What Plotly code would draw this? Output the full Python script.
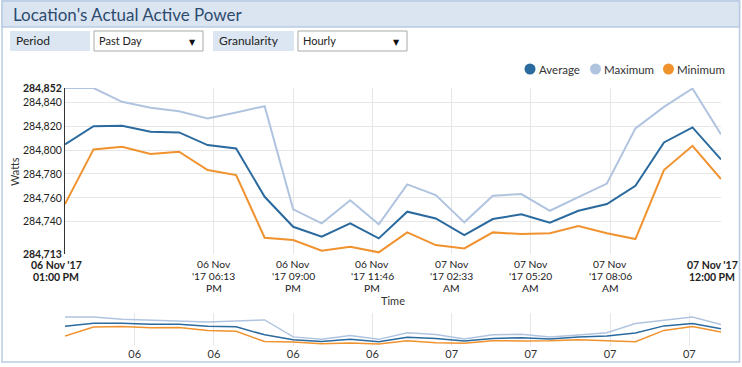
import plotly.graph_objects as go
from datetime import datetime, timedelta

# ---------------- data ----------------
start = datetime(2017, 11, 6, 13, 0)
times = [start + timedelta(hours=h) for h in range(24)]

average = [284804.8, 284820.0, 284820.3, 284815.3, 284814.8, 284804.2, 284801.4, 284760.9,
           284735.8, 284727.5, 284738.7, 284726.1, 284748.4, 284742.8, 284728.9, 284742.3,
           284746.2, 284739.2, 284749.2, 284754.8, 284770.1, 284806.4, 284819.0, 284792.2]
maximum = [284852.0, 284852.0, 284840.4, 284835.4, 284832.6, 284826.5, 284831.5, 284836.8,
           284750.4, 284738.7, 284758.0, 284737.8, 284771.3, 284762.3, 284739.5, 284761.8,
           284763.2, 284749.2, 284760.6, 284772.0, 284818.2, 284836.2, 284851.6, 284813.1]
minimum = [284754.8, 284800.6, 284802.8, 284796.7, 284798.6, 284783.3, 284779.1, 284726.6,
           284724.7, 284715.7, 284719.1, 284714.4, 284731.1, 284720.5, 284717.7, 284731.1,
           284729.7, 284730.3, 284736.4, 284730.3, 284725.5, 284783.3, 284803.6, 284775.7]

series_names = ["Average", "Maximum", "Minimum"]
series_colors = ["#2a6a9e", "#b0c4e0", "#f0922e"]

step = timedelta(minutes=166, seconds=40)
x_tick_vals = [datetime(2017, 11, 6, 18, 13, 20) + step * k for k in range(6)]
x_tick_lines = [["06 Nov", "'17 06:13", "PM"], ["06 Nov", "'17 09:00", "PM"],
                ["06 Nov", "'17 11:46", "PM"], ["07 Nov", "'17 02:33", "AM"],
                ["07 Nov", "'17 05:20", "AM"], ["07 Nov", "'17 08:06", "AM"]]
x_end_lines = [["06 Nov '17", "01:00 PM"], ["07 Nov '17", "12:00 PM"]]

y_tick_vals = [284713, 284740, 284760, 284780, 284800, 284820, 284840, 284852]
y_tick_text = ["<b>284,713</b>", "284,740", "284,760", "284,780", "284,800", "284,820",
               "284,840", "<b>284,852</b>"]
y_grid_vals = [284740, 284760, 284780, 284800, 284820, 284840]

nav_tick_vals = [datetime(2017, 11, 6, 15, 26, 40) + step * k for k in range(8)]
nav_tick_text = ["06", "06", "06", "06", "07", "07", "07", "07"]

# ---------------- geometry helpers ----------------
W, H = 742, 367
def px(x): return x / W
def py(y): return 1 - y / H

FONT = "Lato"
fig = go.Figure()

for name, vals, col in zip(series_names, [average, maximum, minimum], series_colors):
    fig.add_trace(go.Scatter(x=times, y=vals, mode="lines", name=name,
                             line=dict(color=col, width=2), showlegend=False,
                             xaxis="x", yaxis="y"))
    fig.add_trace(go.Scatter(x=times, y=vals, mode="lines", name=name,
                             line=dict(color=col, width=1.5), showlegend=False,
                             xaxis="x2", yaxis="y2", hoverinfo="skip"))

fig.update_layout(
    width=W, height=H,
    margin=dict(l=0, r=0, t=0, b=0, autoexpand=False),
    paper_bgcolor="white", plot_bgcolor="rgba(0,0,0,0)",
    font=dict(family=FONT, size=11, color="#333333"),
    showlegend=False,
    xaxis=dict(domain=[px(65), px(721)], anchor="y", type="date", automargin=False,
               range=[times[0], times[-1]],
               tickvals=x_tick_vals, showticklabels=False, ticks="",
               showgrid=True, gridcolor="#e6e6e6", gridwidth=1,
               showline=False, zeroline=False),
    yaxis=dict(domain=[py(254), py(88)], anchor="x", automargin=False,
               range=[284713, 284852],
               tickvals=y_tick_vals, ticktext=y_tick_text, ticks="",
               showgrid=False, zeroline=False,
               showline=True, linecolor="#333333", linewidth=1,
               tickfont=dict(size=10.5, color="#222222"),
               minor=dict(tickvals=y_grid_vals, showgrid=True, gridcolor="#e6e6e6",
                          gridwidth=1, ticks="")),
    xaxis2=dict(domain=[px(65), px(721)], anchor="y2", type="date", automargin=False,
                range=[times[0], times[-1]],
                tickvals=nav_tick_vals, ticktext=nav_tick_text, ticks="",
                showgrid=True, gridcolor="#e6e6e6", showline=False, zeroline=False,
                tickfont=dict(size=11, color="#333333")),
    yaxis2=dict(domain=[py(346), py(313)], anchor="x2", automargin=False,
                range=[284704, 284872], showticklabels=False, showgrid=False,
                zeroline=False, showline=False, ticks=""),
)

shapes = []
# panel border
shapes.append(dict(type="rect", xref="paper", yref="paper", x0=px(2), x1=px(739.5),
                   y0=py(362), y1=py(1), line=dict(color="#b9cbe3", width=1.5),
                   fillcolor="rgba(0,0,0,0)", layer="below"))
# title bar
shapes.append(dict(type="rect", xref="paper", yref="paper", x0=px(2), x1=px(739.5),
                   y0=py(27), y1=py(1), line=dict(color="#b9cbe3", width=1.5),
                   fillcolor="#dbe5f2", layer="below"))
# label boxes and dropdowns
for (x0, x1) in [(10, 90), (213, 294)]:
    shapes.append(dict(type="rect", xref="paper", yref="paper", x0=px(x0), x1=px(x1),
                       y0=py(51), y1=py(31), line=dict(width=0),
                       fillcolor="#dce6f2", layer="below"))
for (x0, x1) in [(94, 203), (298, 407)]:
    shapes.append(dict(type="rect", xref="paper", yref="paper", x0=px(x0), x1=px(x1),
                       y0=py(51), y1=py(31), line=dict(color="#a9a9a9", width=1),
                       fillcolor="white", layer="below"))
# legend markers
legend_centers = [530, 595.5, 668.5]
for cx, col in zip(legend_centers, series_colors):
    shapes.append(dict(type="circle", xref="paper", yref="paper",
                       x0=px(cx - 5.5), x1=px(cx + 5.5), y0=py(69 + 5.5), y1=py(69 - 5.5),
                       fillcolor=col, line=dict(width=0)))
fig.update_layout(shapes=shapes)

ann = []
ann.append(dict(text="Location's Actual Active Power", x=px(11), y=py(14), xref="paper",
                yref="paper", xanchor="left", yanchor="middle", showarrow=False,
                font=dict(family=FONT, size=17, color="#2d4b6e")))
for txt, x in [("Period", 14), ("Granularity", 217)]:
    ann.append(dict(text=txt, x=px(x), y=py(41), xref="paper", yref="paper",
                    xanchor="left", yanchor="middle", showarrow=False,
                    font=dict(family=FONT, size=12, color="#222222")))
for txt, x, xt in [("Past Day", 97, 192), ("Hourly", 301, 396)]:
    ann.append(dict(text=txt, x=px(x), y=py(40), xref="paper", yref="paper",
                    xanchor="left", yanchor="middle", showarrow=False,
                    font=dict(family=FONT, size=11, color="#222222")))
    ann.append(dict(text="▼", x=px(xt), y=py(42), xref="paper", yref="paper",
                    xanchor="center", yanchor="middle", showarrow=False,
                    font=dict(family="DejaVu Sans", size=8, color="#111111")))
for name, cx in zip(series_names, legend_centers):
    ann.append(dict(text=name, x=px(cx + 6.5), y=py(69), xref="paper", yref="paper",
                    xanchor="left", yanchor="middle", showarrow=False,
                    font=dict(family=FONT, size=11.5, color="#333333")))
# x tick labels, one text per line (tight line spacing like the original)
LINE_Y = [263.5, 275.5, 287.5]
for tv, lines in zip(x_tick_vals, x_tick_lines):
    for ly, txt in zip(LINE_Y, lines):
        ann.append(dict(text=txt, x=tv, y=py(ly), xref="x", yref="paper",
                        xanchor="center", yanchor="middle", showarrow=False, borderpad=0,
                        font=dict(family=FONT, size=10.3, color="#222222")))
# endpoint x labels (justified like the original)
END_Y = [265, 277]
for lines, cx in zip(x_end_lines, [56, 712]):
    for ly, txt in zip(END_Y, lines):
        ann.append(dict(text="<b>" + txt + "</b>", x=px(cx), y=py(ly), xref="paper",
                        yref="paper", xanchor="center", yanchor="middle", showarrow=False,
                        borderpad=0, font=dict(family=FONT, size=10.5, color="#222222")))
ann.append(dict(text="Time", x=px(393), y=py(300), xref="paper", yref="paper",
                xanchor="center", yanchor="middle", showarrow=False, borderpad=0,
                font=dict(family=FONT, size=11, color="#333333")))
ann.append(dict(text="Watts", x=px(14), y=py(172), xref="paper", yref="paper",
                xanchor="center", yanchor="middle", showarrow=False, textangle=-90,
                font=dict(family=FONT, size=11, color="#333333")))
fig.update_layout(annotations=ann)

fig.write_html("out.html", config={"displayModeBar": False},
               post_script="document.body.style.margin='0';document.body.style.overflow='hidden';")
